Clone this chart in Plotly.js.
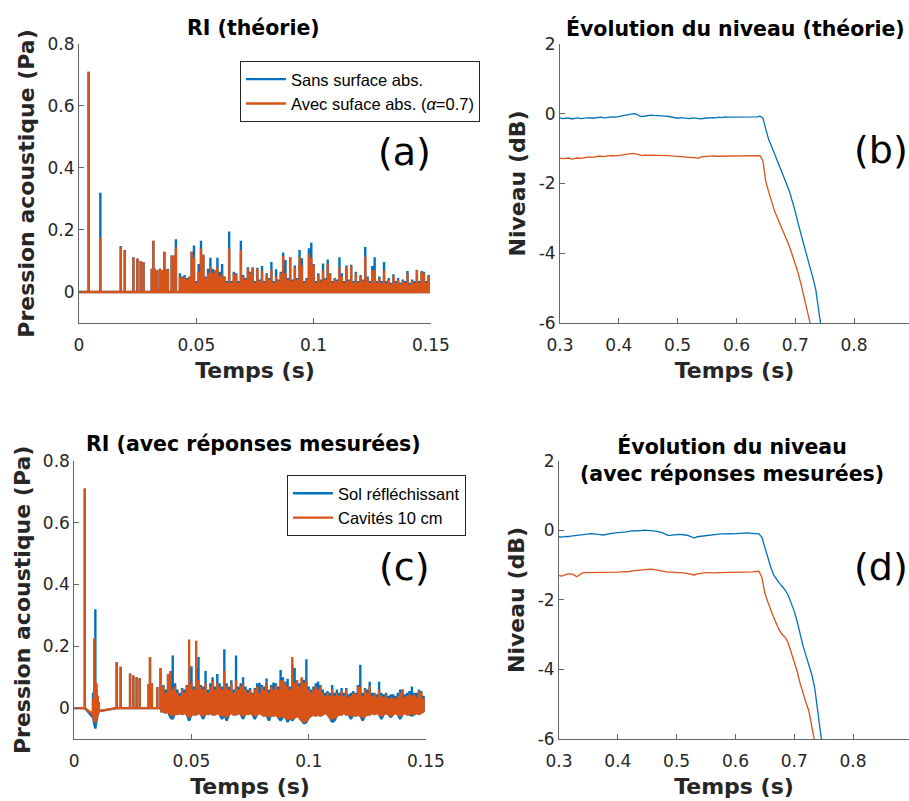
<!DOCTYPE html>
<html>
<head>
<meta charset="utf-8">
<script src="https://cdn.plot.ly/plotly-3.0.1.min.js"></script>
<style>html,body{margin:0;padding:0;background:#fff;}#chart{width:909px;height:801px;}</style>
</head>
<body>
<div id="chart"></div>
<script>
// ---------- Panel (a): RI (théorie) ----------
// sparse early reflections (time in ms)
const tA_sparse = [0, 4.1, 9.1, 17.8, 19.5, 23.2, 24.9, 26.3, 27.5, 31.0, 31.7, 32.3, 33.3, 34.5, 35.4, 36.4, 37.4, 37.9, 39.5, 40.6, 41.3];
const blueA_sparse = [0, 0.71, 0.32, 0.148, 0.135, 0.112, 0.108, 0.10, 0.097, 0.075, 0.165, 0.075, 0.07, 0.075, 0.07, 0.13, 0.073, 0.075, 0.118, 0.118, 0.17];
const orangeA_sparse = [0, 0.71, 0.175, 0.146, 0.133, 0.111, 0.107, 0.10, 0.097, 0.075, 0.165, 0.075, 0.07, 0.075, 0.07, 0.13, 0.073, 0.07, 0.118, 0.118, 0.145];
// dense part, one value per ms starting at 43 ms
const denseA_start = 43;
const blueA_dense = [0.06,0.05,0.055,0.045,0.05,0.13,0.15,0.035,0.09,0.165,0.12,0.05,0.075,0.11,0.075,0.07,0.11,0.065,0.09,0.05,0.035,
 0.195,0.035,0.065,0.06,0.035,0.165,0.055,0.045,0.08,0.065,0.08,0.035,0.078,0.04,0.084,0.035,0.06,0.045,0.097,0.035,0.073,0.04,0.065,
 0.127,0.103,0.045,0.112,0.04,0.085,0.045,0.135,0.109,0.035,0.045,0.141,0.159,0.09,0.035,0.06,0.04,0.092,0.045,0.105,0.06,0.035,0.045,
 0.04,0.112,0.06,0.035,0.085,0.04,0.088,0.035,0.065,0.035,0.055,0.04,0.145,0.05,0.035,0.084,0.112,0.035,0.05,0.035,0.097,0.035,0.045,
 0.03,0.057,0.035,0.045,0.03,0.04,0.035,0.068,0.03,0.04,0.035,0.072,0.035,0.068,0.065,0.035,0.055];
const orangeA_dense = [0.05,0.045,0.05,0.04,0.048,0.13,0.11,0.03,0.065,0.14,0.12,0.045,0.06,0.08,0.06,0.07,0.08,0.05,0.06,0.05,0.03,
 0.14,0.03,0.06,0.055,0.03,0.135,0.05,0.04,0.075,0.06,0.077,0.03,0.076,0.035,0.069,0.03,0.055,0.04,0.071,0.03,0.05,0.035,0.06,
 0.116,0.06,0.04,0.112,0.035,0.08,0.04,0.112,0.086,0.03,0.04,0.123,0.11,0.087,0.03,0.055,0.035,0.07,0.04,0.092,0.057,0.03,0.042,
 0.035,0.08,0.05,0.03,0.08,0.035,0.084,0.03,0.06,0.03,0.05,0.035,0.114,0.045,0.03,0.07,0.07,0.03,0.045,0.03,0.07,0.03,0.039,
 0.025,0.05,0.03,0.04,0.025,0.035,0.03,0.06,0.025,0.035,0.03,0.071,0.03,0.065,0.06,0.03,0.05];

// ---------- Panel (c): RI (avec réponses mesurées) ----------
const tC_sparse = [0, 4.5, 8.0, 8.5, 9.0, 9.5, 10.0, 10.5, 18.1, 19.8, 23.8, 25.2, 26.6, 27.9, 31.7, 32.3, 33.1, 35.4, 36.8, 37.3];
const blueC_hi_sparse = [0, 0.71, 0.05, 0.08, 0.32, 0.06, 0.04, 0.02, 0.148, 0.134, 0.112, 0.105, 0.10, 0.097, 0.078, 0.165, 0.08, 0.068, 0.13, 0.07];
const blueC_lo_sparse = [0, 0, -0.03, -0.05, -0.066, -0.04, -0.02, -0.01, 0, 0, 0, 0, 0, 0, 0, 0, 0, 0, 0, -0.01];
const orangeC_hi_sparse = [0, 0.71, 0.03, 0.225, 0.085, 0.08, 0.04, 0.015, 0.148, 0.134, 0.112, 0.105, 0.10, 0.097, 0.078, 0.165, 0.08, 0.068, 0.13, 0.07];
const orangeC_lo_sparse = [0, 0, -0.02, -0.04, -0.045, -0.03, -0.02, -0.01, 0, 0, 0, 0, 0, 0, 0, 0, 0, 0, 0, -0.01];
const denseC_start = 38;
const blueC_hi = [0.075,0.06,0.11,0.12,0.17,0.08,0.06,0.05,0.065,0.06,0.075,0.13,0.135,0.07,0.13,0.165,0.075,0.07,0.12,0.06,0.08,0.1,
 0.07,0.11,0.08,0.07,0.19,0.08,0.07,0.09,0.06,0.17,0.07,0.08,0.1,0.07,0.06,0.065,0.05,0.065,0.08,0.082,0.075,0.07,0.096,0.06,0.075,
 0.083,0.08,0.07,0.123,0.1,0.085,0.095,0.07,0.14,0.13,0.09,0.08,0.095,0.092,0.158,0.07,0.06,0.07,0.08,0.086,0.075,0.06,0.05,0.055,
 0.05,0.075,0.05,0.06,0.05,0.065,0.05,0.065,0.045,0.05,0.055,0.05,0.075,0.14,0.05,0.065,0.06,0.085,0.05,0.05,0.045,0.085,0.05,0.045,
 0.05,0.04,0.045,0.045,0.04,0.05,0.06,0.06,0.045,0.05,0.055,0.07,0.05,0.05,0.06,0.055,0.04];
const orangeC_hi = [0.07,0.05,0.11,0.12,0.06,0.07,0.05,0.04,0.06,0.05,0.07,0.222,0.08,0.06,0.218,0.09,0.07,0.06,0.08,0.05,0.07,0.09,
 0.06,0.08,0.07,0.06,0.12,0.07,0.06,0.08,0.05,0.09,0.06,0.07,0.08,0.06,0.05,0.06,0.045,0.06,0.07,0.05,0.07,0.06,0.08,0.05,0.07,
 0.06,0.075,0.06,0.09,0.09,0.08,0.07,0.06,0.165,0.08,0.09,0.07,0.1,0.08,0.09,0.06,0.05,0.06,0.07,0.06,0.07,0.05,0.04,0.05,
 0.04,0.06,0.04,0.05,0.04,0.055,0.04,0.06,0.035,0.04,0.05,0.045,0.07,0.07,0.04,0.06,0.05,0.07,0.04,0.045,0.035,0.06,0.04,0.035,
 0.045,0.03,0.035,0.035,0.03,0.04,0.05,0.06,0.035,0.04,0.045,0.04,0.045,0.035,0.055,0.05,0.03];
// lower excursions, one value per ms from 38 ms (rows of 10)
const orangeC_lo = [
 -0.01,-0.015,-0.01,-0.02,-0.025,-0.015,-0.02,-0.015,-0.02,-0.015,
 -0.02,-0.03,-0.02,-0.02,-0.02,-0.015,-0.02,-0.025,-0.015,-0.02,
 -0.015,-0.02,-0.02,-0.015,-0.02,-0.025,-0.02,-0.03,-0.02,-0.015,
 -0.02,-0.02,-0.015,-0.02,-0.025,-0.015,-0.02,-0.015,-0.02,-0.025,
 -0.02,-0.015,-0.02,-0.025,-0.02,-0.03,-0.02,-0.025,-0.02,-0.03,
 -0.025,-0.03,-0.025,-0.035,-0.03,-0.035,-0.03,-0.025,-0.03,-0.04,
 -0.045,-0.04,-0.03,-0.025,-0.02,-0.025,-0.02,-0.025,-0.02,-0.015,
 -0.02,-0.03,-0.035,-0.03,-0.025,-0.02,-0.02,-0.015,-0.02,-0.02,
 -0.025,-0.02,-0.025,-0.02,-0.025,-0.03,-0.025,-0.02,-0.02,-0.015,
 -0.02,-0.015,-0.02,-0.025,-0.02,-0.015,-0.02,-0.025,-0.02,-0.015,
 -0.02,-0.025,-0.02,-0.015,-0.02,-0.02,-0.015,-0.02,-0.015,-0.02,
 -0.015,-0.01];
const blueC_lo = [
 -0.01,-0.015,-0.01,-0.03,-0.035,-0.015,-0.02,-0.015,-0.02,-0.015,
 -0.02,-0.04,-0.02,-0.02,-0.02,-0.015,-0.02,-0.035,-0.015,-0.02,
 -0.015,-0.02,-0.02,-0.015,-0.02,-0.035,-0.02,-0.04,-0.02,-0.015,
 -0.02,-0.02,-0.015,-0.02,-0.035,-0.015,-0.02,-0.015,-0.02,-0.035,
 -0.02,-0.015,-0.02,-0.025,-0.02,-0.04,-0.02,-0.025,-0.02,-0.03,
 -0.04,-0.03,-0.025,-0.045,-0.03,-0.04,-0.03,-0.025,-0.03,-0.04,
 -0.05,-0.045,-0.03,-0.025,-0.02,-0.025,-0.02,-0.025,-0.02,-0.015,
 -0.02,-0.03,-0.045,-0.04,-0.025,-0.02,-0.02,-0.015,-0.02,-0.02,
 -0.035,-0.02,-0.025,-0.02,-0.025,-0.04,-0.025,-0.02,-0.02,-0.015,
 -0.02,-0.015,-0.02,-0.035,-0.02,-0.015,-0.02,-0.03,-0.02,-0.015,
 -0.02,-0.035,-0.02,-0.015,-0.02,-0.02,-0.025,-0.02,-0.015,-0.02,
 -0.015,-0.01];

// ---------- Panels (b) and (d): Évolution du niveau ----------
const tLevel = [
 0.300,0.305,0.310,0.315,0.320,0.325,0.330,0.335,0.340,0.345,
 0.350,0.355,0.360,0.365,0.370,0.375,0.380,0.385,0.390,0.395,
 0.400,0.405,0.410,0.415,0.420,0.425,0.430,0.435,0.440,0.445,
 0.450,0.455,0.460,0.465,0.470,0.475,0.480,0.485,0.490,0.495,
 0.500,0.505,0.510,0.515,0.520,0.525,0.530,0.535,0.540,0.545,
 0.550,0.555,0.560,0.565,0.570,0.575,0.580,0.585,0.590,0.595,
 0.600,0.605,0.610,0.615,0.620,0.625,0.630,0.635,0.640,
 0.645,0.65,0.655,0.66,0.665,0.67,0.675,0.68,0.685,0.69,0.695,0.70,0.705,0.71,0.715,0.72,0.725,0.73,0.735,0.74,0.745,0.75,0.76];
const levelB_blue = [
 -0.12,-0.14,-0.13,-0.12,-0.15,-0.13,-0.12,-0.14,-0.13,-0.11,
 -0.11,-0.13,-0.12,-0.10,-0.10,-0.12,-0.11,-0.09,-0.09,-0.10,
 -0.08,-0.06,-0.05,-0.03,-0.02,0.0,-0.01,-0.06,-0.08,-0.06,
 -0.06,-0.04,-0.05,-0.05,-0.06,-0.05,-0.07,-0.08,-0.10,-0.11,
 -0.13,-0.11,-0.12,-0.14,-0.14,-0.12,-0.13,-0.16,-0.15,-0.13,
 -0.12,-0.12,-0.11,-0.12,-0.10,-0.11,-0.09,-0.10,-0.10,-0.08,
 -0.09,-0.09,-0.08,-0.10,-0.09,-0.08,-0.08,-0.09,-0.07,
 -0.12,-0.45,-0.75,-0.95,-1.15,-1.38,-1.6,-1.8,-2.0,-2.22,-2.5,-2.8,-3.15,-3.48,-3.8,-4.1,-4.4,-4.7,-5.05,-5.65,-6.3,-7.0,-8.0];
const levelB_orange = [
 -1.27,-1.29,-1.28,-1.27,-1.30,-1.28,-1.27,-1.28,-1.26,-1.25,
 -1.24,-1.25,-1.23,-1.22,-1.22,-1.23,-1.21,-1.20,-1.20,-1.21,
 -1.19,-1.18,-1.17,-1.16,-1.15,-1.14,-1.16,-1.19,-1.20,-1.19,
 -1.19,-1.18,-1.18,-1.19,-1.19,-1.18,-1.20,-1.20,-1.21,-1.22,
 -1.23,-1.22,-1.24,-1.26,-1.27,-1.26,-1.26,-1.28,-1.24,-1.23,
 -1.22,-1.21,-1.21,-1.22,-1.22,-1.21,-1.21,-1.20,-1.21,-1.20,
 -1.20,-1.21,-1.21,-1.20,-1.20,-1.21,-1.21,-1.20,-1.20,
 -1.35,-1.95,-2.25,-2.55,-2.8,-3.0,-3.2,-3.38,-3.6,-3.8,-4.05,-4.3,-4.57,-4.9,-5.28,-5.65,-6.0,-6.4,-6.8,-7.2,-7.6,-8.0,-8.5];
const levelD_blue = [
 -0.18,-0.19,-0.17,-0.18,-0.16,-0.15,-0.13,-0.12,-0.10,-0.09,
 -0.08,-0.09,-0.10,-0.12,-0.12,-0.13,-0.11,-0.10,-0.08,-0.07,
 -0.06,-0.06,-0.05,-0.04,-0.02,-0.02,-0.01,0.0,0.0,0.01,
 0.01,0.0,-0.01,-0.02,-0.03,-0.06,-0.10,-0.14,-0.14,-0.12,
 -0.12,-0.11,-0.11,-0.13,-0.15,-0.19,-0.22,-0.18,-0.17,-0.14,
 -0.13,-0.12,-0.12,-0.11,-0.11,-0.10,-0.10,-0.09,-0.09,-0.10,
 -0.09,-0.08,-0.08,-0.07,-0.07,-0.08,-0.09,-0.09,-0.10,
 -0.2,-0.5,-0.8,-1.05,-1.28,-1.42,-1.52,-1.62,-1.72,-1.88,-2.08,-2.32,-2.62,-2.98,-3.32,-3.6,-3.85,-4.15,-4.55,-5.3,-5.95,-6.6,-7.8];
const levelD_orange = [
 -1.30,-1.31,-1.28,-1.25,-1.25,-1.27,-1.33,-1.27,-1.22,-1.21,
 -1.21,-1.22,-1.22,-1.21,-1.21,-1.22,-1.22,-1.21,-1.21,-1.20,
 -1.20,-1.19,-1.19,-1.18,-1.18,-1.16,-1.15,-1.14,-1.13,-1.12,
 -1.11,-1.11,-1.12,-1.14,-1.16,-1.18,-1.19,-1.20,-1.20,-1.20,
 -1.21,-1.21,-1.22,-1.23,-1.24,-1.26,-1.28,-1.25,-1.23,-1.22,
 -1.21,-1.21,-1.22,-1.22,-1.21,-1.21,-1.21,-1.20,-1.20,-1.20,
 -1.21,-1.20,-1.20,-1.20,-1.20,-1.19,-1.19,-1.18,-1.17,
 -1.35,-1.8,-2.05,-2.3,-2.5,-2.7,-2.88,-3.0,-3.08,-3.25,-3.5,-3.75,-4.05,-4.4,-4.7,-4.95,-5.2,-5.6,-6.1,-6.6,-7.1,-7.6,-8.5];

// ---------- labels ----------
const legendA = ['Sans surface abs.', 'Avec suface abs. (<i>α</i>=0.7)'];
const legendC = ['Sol réfléchissant', 'Cavités 10 cm'];
const ticksRI = [0, 0.2, 0.4, 0.6, 0.8];
const ticksRIText = ['0', '0.2', '0.4', '0.6', '0.8'];
const ticksT = [0, 0.05, 0.1, 0.15];
const ticksTText = ['0', '0.05', '0.1', '0.15'];
const ticksLv = [-6, -4, -2, 0, 2];
const ticksLvText = ['-6', '-4', '-2', '0', '2'];
const ticksTL = [0.3, 0.4, 0.5, 0.6, 0.7, 0.8];
const ticksTLText = ['0.3', '0.4', '0.5', '0.6', '0.7', '0.8'];

const BLUE = '#0072BD', ORANGE = '#D95319';

// build stick series (time ms -> s), each sample drawn as a vertical stroke from lo to hi
function sticks(tMs, hi, lo) {
  const x = [], y = [];
  for (let i = 0; i < tMs.length; i++) {
    const t = tMs[i] / 1000, l = lo ? lo[i] : 0;
    x.push(t, t, t); y.push(l, hi[i], l);
  }
  return {x, y};
}
function denseTimes(start, arr) { return arr.map((_, i) => start + i); }

const tA = tA_sparse.concat(denseTimes(denseA_start, blueA_dense));
const sA_blue = sticks(tA, blueA_sparse.concat(blueA_dense));
const sA_orange = sticks(tA, orangeA_sparse.concat(orangeA_dense));
const tC = tC_sparse.concat(denseTimes(denseC_start, blueC_hi));
const sC_blue = sticks(tC, blueC_hi_sparse.concat(blueC_hi), blueC_lo_sparse.concat(blueC_lo));
const sC_orange = sticks(tC, orangeC_hi_sparse.concat(orangeC_hi), orangeC_lo_sparse.concat(orangeC_lo));

const LW = 2.4;
const data = [
  {type:'scatter', mode:'lines', x:sA_blue.x, y:sA_blue.y, line:{color:BLUE, width:LW}, name:legendA[0], xaxis:'x', yaxis:'y', legend:'legend', hoverinfo:'skip'},
  {type:'scatter', mode:'lines', x:sA_orange.x, y:sA_orange.y, line:{color:ORANGE, width:LW}, name:legendA[1], xaxis:'x', yaxis:'y', legend:'legend', hoverinfo:'skip'},
  {type:'scatter', mode:'lines', x:tLevel, y:levelB_blue, line:{color:BLUE, width:1.3}, xaxis:'x2', yaxis:'y2', showlegend:false},
  {type:'scatter', mode:'lines', x:tLevel, y:levelB_orange, line:{color:ORANGE, width:1.3}, xaxis:'x2', yaxis:'y2', showlegend:false},
  {type:'scatter', mode:'lines', x:sC_blue.x, y:sC_blue.y, line:{color:BLUE, width:LW}, name:legendC[0], xaxis:'x3', yaxis:'y3', legend:'legend2', hoverinfo:'skip'},
  {type:'scatter', mode:'lines', x:sC_orange.x, y:sC_orange.y, line:{color:ORANGE, width:LW}, name:legendC[1], xaxis:'x3', yaxis:'y3', legend:'legend2', hoverinfo:'skip'},
  {type:'scatter', mode:'lines', x:tLevel, y:levelD_blue, line:{color:BLUE, width:1.3}, xaxis:'x4', yaxis:'y4', showlegend:false},
  {type:'scatter', mode:'lines', x:tLevel, y:levelD_orange, line:{color:ORANGE, width:1.3}, xaxis:'x4', yaxis:'y4', showlegend:false}
];

const TICKFONT = {family:'DejaVu Sans', size:17, color:'#262626'};
const AXTITLE = {family:'DejaVu Sans', size:22, color:'#262626'};
function ax(extra) {
  return Object.assign({
    showline:true, linecolor:'#666', linewidth:1, mirror:false,
    ticks:'inside', ticklen:5, tickcolor:'#666', tickwidth:1,
    showgrid:false, zeroline:false, tickfont:TICKFONT, automargin:false, fixedrange:true
  }, extra);
}
const XSTAND = 7;

const layout = {
  width:909, height:801, margin:{l:0, r:0, t:0, b:0},
  paper_bgcolor:'#fff', plot_bgcolor:'#fff', showlegend:true,
  xaxis: ax({domain:[0.0869, 0.4741], range:[0, 0.15], tickvals:ticksT, ticktext:ticksTText, anchor:'y', ticklabelstandoff:XSTAND,
             title:{text:'<b>Temps (s)</b>', font:AXTITLE, standoff:8}}),
  yaxis: ax({domain:[0.5968, 0.9451], range:[-0.1, 0.8], tickvals:ticksRI, ticktext:ticksRIText, anchor:'x',
             title:{text:'<b>Pression acoustique (Pa)</b>', font:AXTITLE, standoff:6}}),
  xaxis2: ax({domain:[0.6161, 1], range:[0.3, 0.8935], tickvals:ticksTL, ticktext:ticksTLText, anchor:'y2', ticklabelstandoff:XSTAND,
             title:{text:'<b>Temps (s)</b>', font:AXTITLE, standoff:8}}),
  yaxis2: ax({domain:[0.5968, 0.9451], range:[-6, 2], tickvals:ticksLv, ticktext:ticksLvText, anchor:'x2',
             title:{text:'<b>Niveau (dB)</b>', font:AXTITLE, standoff:6}}),
  xaxis3: ax({domain:[0.0817, 0.4686], range:[0, 0.15], tickvals:ticksT, ticktext:ticksTText, anchor:'y3', ticklabelstandoff:XSTAND,
             title:{text:'<b>Temps (s)</b>', font:AXTITLE, standoff:8}}),
  yaxis3: ax({domain:[0.0774, 0.4248], range:[-0.1, 0.8], tickvals:ticksRI, ticktext:ticksRIText, anchor:'x3',
             title:{text:'<b>Pression acoustique (Pa)</b>', font:AXTITLE, standoff:6}}),
  xaxis4: ax({domain:[0.615, 1], range:[0.3, 0.8952], tickvals:ticksTL, ticktext:ticksTLText, anchor:'y4', ticklabelstandoff:XSTAND,
             title:{text:'<b>Temps (s)</b>', font:AXTITLE, standoff:8}}),
  yaxis4: ax({domain:[0.0774, 0.4245], range:[-6, 2], tickvals:ticksLv, ticktext:ticksLvText, anchor:'x4',
             title:{text:'<b>Niveau (dB)</b>', font:AXTITLE, standoff:6}}),
  legend: {x:0.264, y:0.924, xanchor:'left', yanchor:'top', bgcolor:'#fff', bordercolor:'#262626', borderwidth:1,
           font:{family:'Liberation Sans', size:16.5, color:'#000'}, itemwidth:40, tracegroupgap:0},
  legend2: {x:0.3157, y:0.407, xanchor:'left', yanchor:'top', bgcolor:'#fff', bordercolor:'#262626', borderwidth:1,
           font:{family:'Liberation Sans', size:16.5, color:'#000'}, itemwidth:40, tracegroupgap:0},
  annotations: [
    {text:'<b>RI (théorie)</b>', xref:'paper', yref:'paper', x:0.2794, y:0.965, xanchor:'center', yanchor:'middle', showarrow:false,
     font:{family:'DejaVu Sans', size:20.5, color:'#000'}},
    {text:'<b>Évolution du niveau (théorie)</b>', xref:'paper', yref:'paper', x:0.8086, y:0.965, xanchor:'center', yanchor:'middle', showarrow:false,
     font:{family:'DejaVu Sans', size:20.5, color:'#000'}},
    {text:'<b>RI (avec réponses mesurées)</b>', xref:'paper', yref:'paper', x:0.2794, y:0.4457, xanchor:'center', yanchor:'middle', showarrow:false,
     font:{family:'DejaVu Sans', size:20.5, color:'#000'}},
    {text:'<b>Évolution du niveau<br>(avec réponses mesurées)</b>', xref:'paper', yref:'paper', x:0.8053, y:0.4257, xanchor:'center', yanchor:'middle', showarrow:false,
     font:{family:'DejaVu Sans', size:20.5, color:'#000'}},
    {text:'(a)', xref:'paper', yref:'paper', x:0.4455, y:0.8102, xanchor:'center', yanchor:'middle', showarrow:false,
     font:{family:'DejaVu Sans', size:38, color:'#000'}},
    {text:'(b)', xref:'paper', yref:'paper', x:0.9692, y:0.8127, xanchor:'center', yanchor:'middle', showarrow:false,
     font:{family:'DejaVu Sans', size:38, color:'#000'}},
    {text:'(c)', xref:'paper', yref:'paper', x:0.4455, y:0.2921, xanchor:'center', yanchor:'middle', showarrow:false,
     font:{family:'DejaVu Sans', size:38, color:'#000'}},
    {text:'(d)', xref:'paper', yref:'paper', x:0.9692, y:0.2921, xanchor:'center', yanchor:'middle', showarrow:false,
     font:{family:'DejaVu Sans', size:38, color:'#000'}}
  ]
};

Plotly.newPlot('chart', data, layout, {staticPlot:true, displayModeBar:false});
</script>
</body>
</html>
